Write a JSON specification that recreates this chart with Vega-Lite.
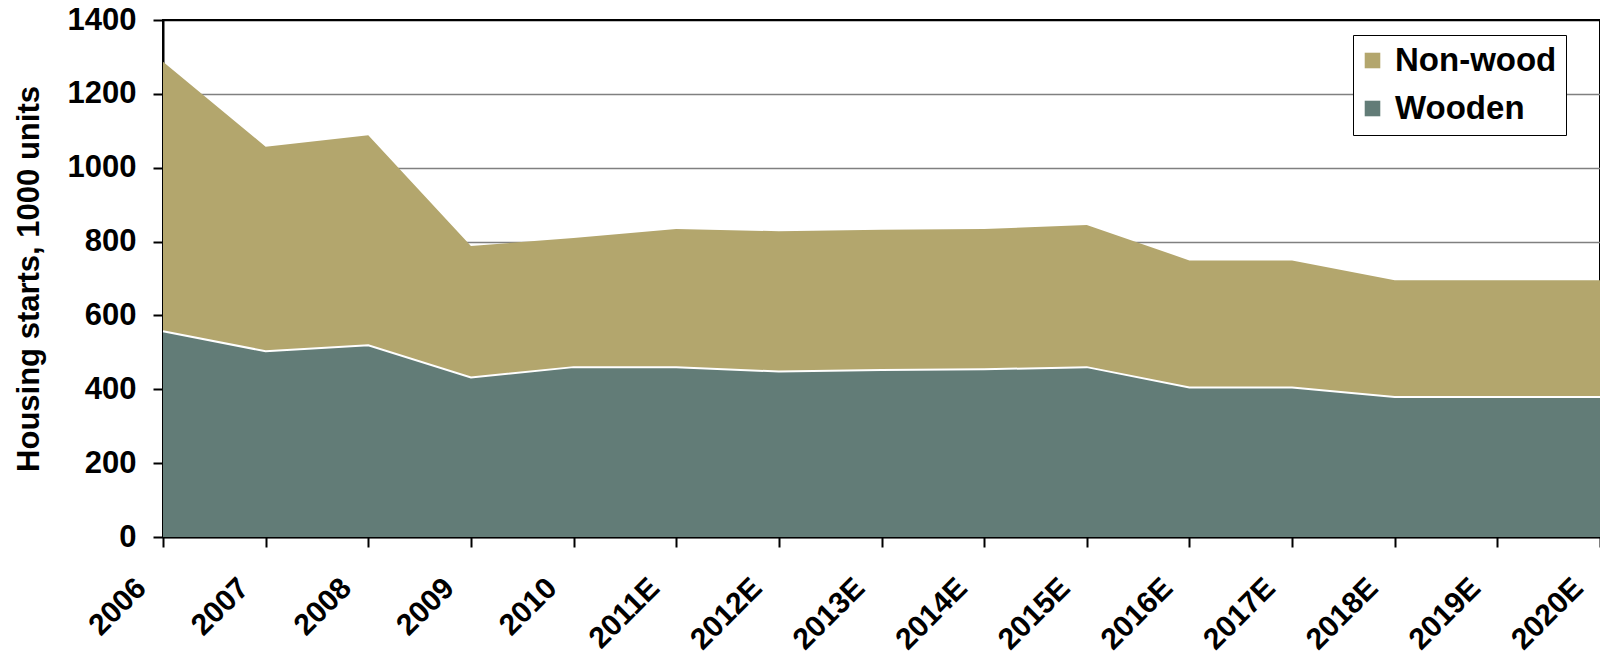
{
  "$schema": "https://vega.github.io/schema/vega-lite/v6.json",
  "width": 1437,
  "height": 517,
  "autosize": {"type": "none"},
  "padding": {"left": 163, "top": 20, "right": 0, "bottom": 117},
  "config": {
    "font": "Liberation Sans",
    "view": {"stroke": "black", "strokeWidth": 2}
  },
  "data": {
    "values": [
      {"year": "2006", "type": "Wooden", "value": 557},
      {"year": "2007", "type": "Wooden", "value": 503},
      {"year": "2008", "type": "Wooden", "value": 519},
      {"year": "2009", "type": "Wooden", "value": 432},
      {"year": "2010", "type": "Wooden", "value": 460},
      {"year": "2011E", "type": "Wooden", "value": 460},
      {"year": "2012E", "type": "Wooden", "value": 448},
      {"year": "2013E", "type": "Wooden", "value": 452},
      {"year": "2014E", "type": "Wooden", "value": 454},
      {"year": "2015E", "type": "Wooden", "value": 460},
      {"year": "2016E", "type": "Wooden", "value": 405},
      {"year": "2017E", "type": "Wooden", "value": 405},
      {"year": "2018E", "type": "Wooden", "value": 379},
      {"year": "2019E", "type": "Wooden", "value": 379},
      {"year": "2020E", "type": "Wooden", "value": 379},
      {"year": "2006", "type": "Non-wood", "value": 730},
      {"year": "2007", "type": "Non-wood", "value": 554},
      {"year": "2008", "type": "Non-wood", "value": 569},
      {"year": "2009", "type": "Non-wood", "value": 356},
      {"year": "2010", "type": "Non-wood", "value": 350},
      {"year": "2011E", "type": "Non-wood", "value": 374},
      {"year": "2012E", "type": "Non-wood", "value": 380},
      {"year": "2013E", "type": "Non-wood", "value": 380},
      {"year": "2014E", "type": "Non-wood", "value": 380},
      {"year": "2015E", "type": "Non-wood", "value": 385},
      {"year": "2016E", "type": "Non-wood", "value": 344},
      {"year": "2017E", "type": "Non-wood", "value": 344},
      {"year": "2018E", "type": "Non-wood", "value": 316},
      {"year": "2019E", "type": "Non-wood", "value": 316},
      {"year": "2020E", "type": "Non-wood", "value": 316}
    ]
  },
  "encoding": {
    "x": {
      "field": "year",
      "type": "ordinal",
      "sort": null,
      "scale": {"type": "point", "padding": 0},
      "axis": {
        "title": null,
        "grid": false,
        "labelAngle": -45,
        "labelAlign": "right",
        "labelBaseline": "middle",
        "labelPadding": 36,
        "labelOffset": -22,
        "labelFontSize": 30,
        "labelFontWeight": "bold",
        "labelColor": "black",
        "labelOverlap": false,
        "labelFlush": false,
        "tickSize": 10,
        "tickWidth": 2,
        "tickColor": "black",
        "domainColor": "black",
        "domainWidth": 2
      }
    }
  },
  "layer": [
    {
      "mark": {"type": "area"},
      "encoding": {
        "y": {
          "field": "value",
          "type": "quantitative",
          "stack": "zero",
          "scale": {"domain": [0, 1400], "nice": false},
          "axis": {
            "values": [0, 200, 400, 600, 800, 1000, 1200, 1400],
            "format": "d",
            "grid": true,
            "gridColor": {"condition": {"test": "datum.value == 1400", "value": "black"}, "value": "#808080"},
            "gridWidth": 1.6,
            "domainColor": "black",
            "domainWidth": 2,
            "tickColor": "black",
            "tickSize": 10,
            "tickWidth": 2,
            "labelFontSize": 31,
            "labelFontWeight": "bold",
            "labelColor": "black",
            "labelPadding": 17,
            "title": "Housing starts, 1000 units",
            "titleFontSize": 31,
            "titleFontWeight": "bold",
            "titleColor": "black",
            "titleBaseline": "alphabetic",
            "titleX": -125
          }
        },
        "color": {
          "field": "type",
          "type": "nominal",
          "scale": {"domain": ["Non-wood", "Wooden"], "range": ["#b3a66d", "#627c77"]},
          "legend": {
            "orient": "none",
            "legendX": 1190,
            "legendY": 15,
            "title": null,
            "symbolType": "square",
            "symbolSize": 243,
            "symbolStrokeWidth": 0,
            "symbolOffset": -6,
            "labelFontSize": 33,
            "labelFontWeight": "bold",
            "labelColor": "black",
            "labelOffset": 6,
            "labelLimit": 400,
            "padding": 9,
            "rowPadding": 14,
            "strokeColor": "black",
            "fillColor": "white"
          }
        },
        "order": {"field": "type", "sort": "descending"}
      }
    },
    {
      "transform": [{"filter": "datum.type == 'Wooden'"}],
      "mark": {"type": "line", "color": "white", "strokeWidth": 2},
      "encoding": {
        "y": {"field": "value", "type": "quantitative"}
      }
    }
  ]
}
